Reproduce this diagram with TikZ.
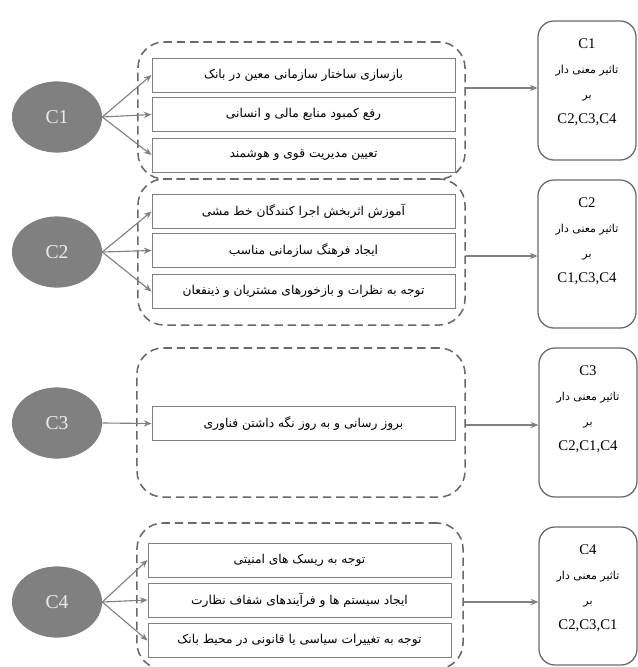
\documentclass[tikz,border=0pt]{standalone}
\usepackage{fontspec}
\setmainfont{Liberation Serif}
\newfontfamily\fafont[Script=Arabic]{DejaVu Sans}
\TeXXeTstate=1
\usetikzlibrary{arrows.meta,shapes.geometric}
\definecolor{lgray}{RGB}{128,128,128}
\definecolor{dgray}{RGB}{105,105,105}
\newcommand{\fa}[1]{{\fafont\beginR #1\endR}}
\newcommand{\fasmall}[1]{{\fontsize{7.8}{17.7}\fafont\beginR #1\endR}}
\tikzset{
  crit/.style={ellipse, fill=lgray, text=white!92!black, minimum width=2.25cm,
    minimum height=1.78cm, inner sep=0pt, font=\fontsize{14}{16}\selectfont},
  item/.style={draw=lgray, line width=0.6pt, minimum width=7.575cm, minimum height=0.85cm,
    inner sep=0pt, font=\fontsize{8.7}{10}\selectfont},
  group/.style={draw=dgray, line width=1.1pt, dash pattern=on 6pt off 3.5pt,
    rounded corners=0.65cm, inner sep=0pt},
  effect/.style={draw=dgray, line width=0.9pt, rounded corners=0.4cm, inner sep=0pt,
    minimum width=2.45cm},
  efftext/.style={anchor=north, align=center, inner sep=0pt,
    font=\fontsize{10.5}{17.7}\selectfont},
  arr/.style={draw=lgray, line width=0.8pt, -{Stealth[length=5.5pt,width=4.5pt]}}
}
\begin{document}
\begin{tikzpicture}[x=0.025cm,y=-0.025cm]
\useasboundingbox (0,0) rectangle (638,667);

% dashed groups
\node[group, minimum width=8.175cm, minimum height=3.425cm] (G1) at (301.5,110.5) {};
\node[group, minimum width=8.175cm, minimum height=3.65cm] (G2) at (301.5,252) {};
\node[group, minimum width=8.2cm, minimum height=3.725cm] (G3) at (301,422.5) {};
\node[group, minimum width=8.15cm, minimum height=3.65cm] (G4) at (300,596) {};

% criteria
\node[crit] (C1) at (57,117) {C1};
\node[crit] (C2) at (57,252) {C2};
\node[crit] (C3) at (57,423) {C3};
\node[crit] (C4) at (57,602) {C4};

% items
\node[item] (b11) at (303.5,75) {\fa{بازسازی ساختار سازمانی معین در بانک}};
\node[item] (b12) at (303.5,114.5) {\fa{رفع کمبود منابع مالی و انسانی}};
\node[item] (b13) at (303.5,155) {\fa{تعیین مدیریت قوی و هوشمند}};
\node[item] (b21) at (303.5,211.5) {\fa{آموزش اثربخش اجرا کنندگان خط مشی}};
\node[item] (b22) at (303.5,250.5) {\fa{ایجاد فرهنگ سازمانی مناسب}};
\node[item] (b23) at (303.5,291.5) {\fa{توجه به نظرات و بازخورهای مشتریان و ذینفعان}};
\node[item] (b31) at (303.5,423.5) {\fa{بروز رسانی و به روز نگه داشتن فناوری}};
\node[item] (b41) at (299.5,560) {\fa{توجه به ریسک های امنیتی}};
\node[item] (b42) at (299.5,600) {\fa{ایجاد سیستم ها و فرآیندهای شفاف نظارت}};
\node[item] (b43) at (299.5,640.5) {\fa{توجه به تغییرات سیاسی یا قانونی در محیط بانک}};

% effects
\node[effect, minimum height=3.475cm] (R1) at (587,90.5) {};
\node[effect, minimum height=3.7cm] (R2) at (587,254) {};
\node[effect, minimum height=3.725cm] (R3) at (588,422.5) {};
\node[effect, minimum height=3.45cm] (R4) at (588,596) {};
\node[efftext] (t1) at ([yshift=-0.45cm]R1.north) {C1\\\fasmall{تاثیر معنی دار}\\\fasmall{بر}\\C2,C3,C4};
\node[efftext] (t2) at ([yshift=-0.45cm]R2.north) {C2\\\fasmall{تاثیر معنی دار}\\\fasmall{بر}\\C1,C3,C4};
\node[efftext] (t3) at ([yshift=-0.45cm]R3.north) {C3\\\fasmall{تاثیر معنی دار}\\\fasmall{بر}\\C2,C1,C4};
\node[efftext] (t4) at ([yshift=-0.45cm]R4.north) {C4\\\fasmall{تاثیر معنی دار}\\\fasmall{بر}\\C2,C3,C1};

% connectors
\foreach \i in {1,2,3} {
  \draw[arr] (C1.east) -- (b1\i.west);
  \draw[arr] (C2.east) -- (b2\i.west);
  \draw[arr] (C4.east) -- (b4\i.west);
}
\draw[arr] (C3.east) -- (b31.west);

\coordinate (a1) at (0,88);
\coordinate (a2) at (0,256);
\coordinate (a3) at (0,425);
\coordinate (a4) at (0,602);
\foreach \i in {1,2,3,4}
  \draw[arr] (G\i.east |- a\i) -- (R\i.west |- a\i);
\end{tikzpicture}
\end{document}
